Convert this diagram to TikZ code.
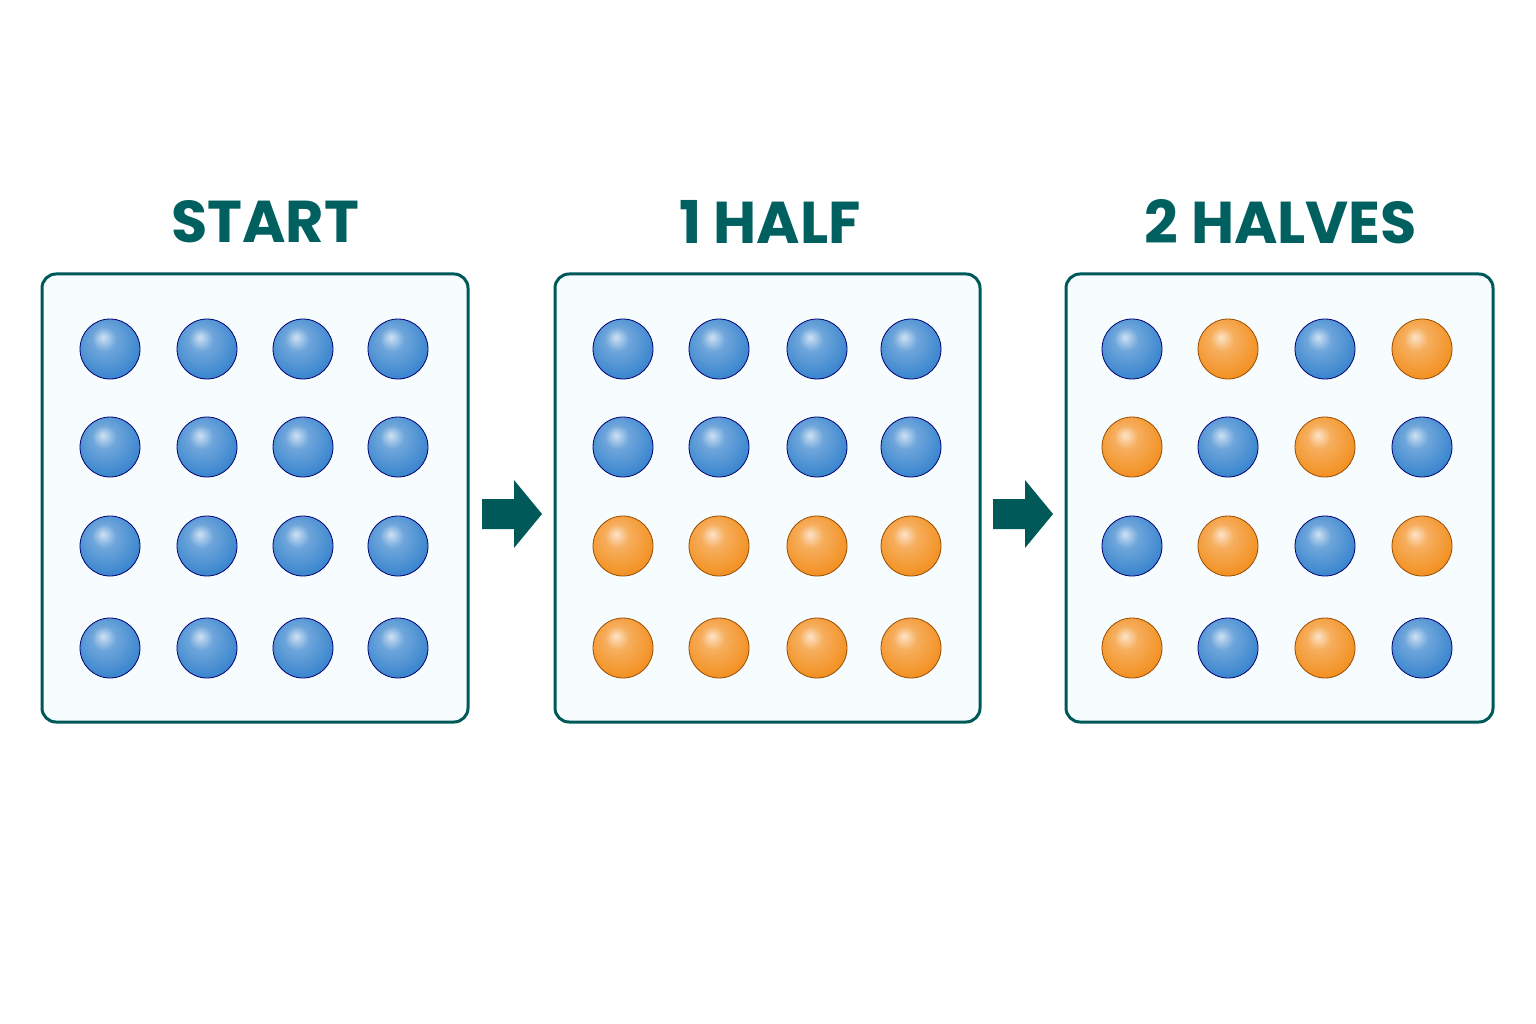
\documentclass[tikz,border=0pt]{standalone}
\usepackage{fontspec}
\setmainfont{Poppins}
\definecolor{blueB}{HTML}{3E88CF}
\definecolor{orangeB}{HTML}{F39327}
\pgfdeclareradialshading{ballblue}{\pgfpoint{-6bp}{10bp}}{color(0bp)=(white!75!blueB); color(10bp)=(white!25!blueB); color(28bp)=(blueB); color(45bp)=(blueB!80!black); color(60bp)=(blueB!70!black)}
\pgfdeclareradialshading{ballorange}{\pgfpoint{-6bp}{10bp}}{color(0bp)=(white!75!orangeB); color(10bp)=(white!25!orangeB); color(28bp)=(orangeB); color(45bp)=(orangeB!88!black); color(60bp)=(orangeB!75!black)}
\begin{document}
\begin{tikzpicture}[x=1pt,y=-1pt,
  panel/.style={draw=teal!70!black, line width=3pt, rounded corners=14pt, fill=cyan!3},
  ttl/.style={text=teal!75!black, font=\bfseries\fontsize{59}{62}\selectfont},
  bb/.style={circle, minimum size=60pt, inner sep=0pt, draw=blue!45!black, line width=0.8pt, shading=ballblue},
  ob/.style={circle, minimum size=60pt, inner sep=0pt, draw=orange!60!black, line width=0.8pt, shading=ballorange},
  blk/.style={fill=teal!70!black}]
\useasboundingbox[fill=white] (0,0) rectangle (1536,1024);
\node[ttl] (t1) at (265,222) {START};
\node[ttl] (t2) at (770,222) {1 HALF};
\node[ttl] (t3) at (1281,222) {2 HALVES};
\draw[panel] (42,274) rectangle (468,722);
\draw[panel] (555,274) rectangle (980,722);
\draw[panel] (1066,274) rectangle (1493,722);
\def\rows{349,447,546,648}
\foreach \y in \rows \foreach \x in {110,207,303,398} \node[bb] at (\x,\y) {};
\foreach \y [count=\r] in \rows \foreach \x in {623,719,817,911} {
  \ifnum\r<3 \node[bb] at (\x,\y) {}; \else \node[ob] at (\x,\y) {}; \fi}
\foreach \y [count=\r] in \rows \foreach \x [count=\c] in {1132,1228,1325,1422} {
  \pgfmathtruncatemacro\s{mod(\r+\c,2)}
  \ifnum\s=0 \node[bb] at (\x,\y) {}; \else \node[ob] at (\x,\y) {}; \fi}
\foreach \ax in {482,993} {
  \fill[blk] (\ax,499) -- (\ax+32,499) -- (\ax+32,480) -- (\ax+60,514) -- (\ax+32,548) -- (\ax+32,529) -- (\ax,529) -- cycle;}
\end{tikzpicture}
\end{document}
